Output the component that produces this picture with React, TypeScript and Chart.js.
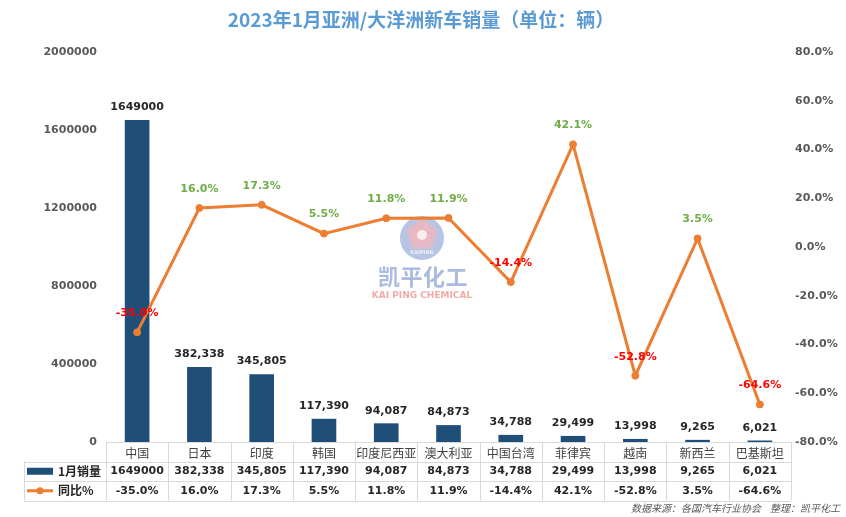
import React, { useEffect, useRef } from 'react';
import { Chart, registerables } from 'chart.js';

Chart.register(...registerables);

const chartTitle = '2023年1月亚洲/大洋洲新车销量（单位：辆）';
const sourceNote = '数据来源：各国汽车行业协会    整理：凯平化工';
const categories = ['中国', '日本', '印度', '韩国', '印度尼西亚', '澳大利亚', '中国台湾', '菲律宾', '越南', '新西兰', '巴基斯坦'];
const salesJan = [1649000, 382338, 345805, 117390, 94087, 84873, 34788, 29499, 13998, 9265, 6021];
const salesLabels = ['1649000', '382,338', '345,805', '117,390', '94,087', '84,873', '34,788', '29,499', '13,998', '9,265', '6,021'];
const yoyPct = [-35.0, 16.0, 17.3, 5.5, 11.8, 11.9, -14.4, 42.1, -52.8, 3.5, -64.6];
const seriesNames = ['1月销量', '同比%'];
const leftMin = 0;
const leftMax = 2000000;
const leftStep = 400000;
const rightMin = -80;
const rightMax = 80;
const rightStep = 20;

const BAR_COLOR = '#1F4E79';
const LINE_COLOR = '#ED7D31';
const NUM_FONT = "'DejaVu Sans', 'Noto Sans CJK SC', sans-serif";
const CJK_FONT = "'Noto Sans CJK SC', 'DejaVu Sans', sans-serif";

const fmtPct = (v: number) => v.toFixed(1) + '%';

const overlayPlugin = {
  id: 'overlay',
  beforeDatasetsDraw(chart: any) {
    const ctx = chart.ctx as CanvasRenderingContext2D;
    // watermark
    const cx = 422, cy = 238;
    ctx.save();
    ctx.globalAlpha = 0.75;
    ctx.fillStyle = '#9FB2DC';
    ctx.beginPath();
    ctx.arc(cx, cy, 22, 0, Math.PI * 2);
    ctx.fill();
    ctx.fillStyle = '#F3B6BE';
    for (let k = 0; k < 5; k++) {
      const a = -Math.PI / 2 + (k * 2 * Math.PI) / 5;
      ctx.beginPath();
      ctx.arc(cx + Math.cos(a) * 8, cy - 3 + Math.sin(a) * 8, 7.5, 0, Math.PI * 2);
      ctx.fill();
    }
    ctx.fillStyle = '#FFFFFF';
    ctx.beginPath();
    ctx.arc(cx, cy - 3, 5, 0, Math.PI * 2);
    ctx.fill();
    ctx.font = "bold 5px 'DejaVu Sans'";
    ctx.textAlign = 'center';
    ctx.textBaseline = 'middle';
    ctx.fillText('KAIPING', cx, cy + 15);
    ctx.fillStyle = '#8FA3D6';
    ctx.font = "bold 22px 'Noto Sans CJK SC'";
    const wm = ['凯', '平', '化', '工'];
    wm.forEach((c, i) => ctx.fillText(c, 389 + i * 22.5, 277));
    ctx.fillStyle = '#F08C8C';
    ctx.font = "bold 9px 'DejaVu Sans'";
    ctx.fillText('KAI PING CHEMICAL', 422, 296);
    ctx.restore();
  },
  afterDatasetsDraw(chart: any) {
    const ctx = chart.ctx as CanvasRenderingContext2D;
    ctx.save();
    ctx.textAlign = 'center';
    ctx.textBaseline = 'middle';
    ctx.font = `bold 11px ${NUM_FONT}`;
    ctx.fillStyle = '#262626';
    chart.getDatasetMeta(0).data.forEach((el: any, i: number) => {
      ctx.fillText(salesLabels[i], el.x, el.y - 13);
    });
    chart.getDatasetMeta(1).data.forEach((el: any, i: number) => {
      const v = yoyPct[i];
      ctx.fillStyle = v >= 0 ? '#70AD47' : '#FF0000';
      ctx.fillText(fmtPct(v), el.x, el.y - 19);
    });
    ctx.restore();
  },
  afterDraw(chart: any) {
    const ctx = chart.ctx as CanvasRenderingContext2D;
    const area = chart.chartArea;
    const n = categories.length;
    const left = area.left;
    const right = area.right;
    const cw = (right - left) / n;
    const top = area.bottom;
    const rh = 19.5;
    const legLeft = 24;
    ctx.save();
    // title
    ctx.fillStyle = '#5B9BD5';
    ctx.font = `bold 19px ${CJK_FONT}`;
    ctx.textAlign = 'center';
    ctx.textBaseline = 'middle';
    ctx.fillText(chartTitle, 421, 20);
    // table lines
    ctx.strokeStyle = '#D9D9D9';
    ctx.lineWidth = 1;
    ctx.beginPath();
    ctx.moveTo(left, top + 0.5);
    ctx.lineTo(right, top + 0.5);
    for (let r = 1; r <= 3; r++) {
      const y = Math.round(top + r * rh) + 0.5;
      ctx.moveTo(legLeft, y);
      ctx.lineTo(right, y);
    }
    for (let c = 0; c <= n; c++) {
      const x = Math.round(left + c * cw) + 0.5;
      ctx.moveTo(x, top);
      ctx.lineTo(x, top + 3 * rh);
    }
    ctx.moveTo(legLeft + 0.5, top + rh);
    ctx.lineTo(legLeft + 0.5, top + 3 * rh);
    ctx.stroke();
    // legend cells
    const y2 = top + rh * 1.5;
    const y3 = top + rh * 2.5;
    ctx.fillStyle = BAR_COLOR;
    ctx.fillRect(27, y2 - 3.5, 26, 7);
    ctx.strokeStyle = LINE_COLOR;
    ctx.lineWidth = 3;
    ctx.beginPath();
    ctx.moveTo(27, y3);
    ctx.lineTo(53, y3);
    ctx.stroke();
    ctx.fillStyle = LINE_COLOR;
    ctx.beginPath();
    ctx.arc(40, y3, 3.5, 0, Math.PI * 2);
    ctx.fill();
    ctx.fillStyle = '#262626';
    ctx.textAlign = 'left';
    ctx.font = `bold 12px ${CJK_FONT}`;
    ctx.fillText(seriesNames[0], 58, y2);
    ctx.fillText(seriesNames[1], 58, y3);
    // values
    ctx.textAlign = 'center';
    ctx.font = `bold 11px ${NUM_FONT}`;
    for (let i = 0; i < n; i++) {
      const x = left + (i + 0.5) * cw;
      ctx.fillText(salesLabels[i], x, y2);
      ctx.fillText(fmtPct(yoyPct[i]), x, y3);
    }
    // source
    ctx.fillStyle = '#595959';
    ctx.font = `italic 10px ${CJK_FONT}`;
    ctx.textAlign = 'right';
    ctx.fillText(sourceNote, 840, 508);
    ctx.restore();
  },
};

export default function App() {
  const ref = useRef<HTMLCanvasElement>(null);
  useEffect(() => {
    document.body.style.margin = '0';
    const canvas = ref.current;
    if (!canvas) return;
    const chart = new Chart(canvas, {
      type: 'bar',
      data: {
        labels: categories,
        datasets: [
          {
            type: 'bar',
            label: seriesNames[0],
            data: salesJan,
            backgroundColor: BAR_COLOR,
            yAxisID: 'y',
            barThickness: 24,
            order: 2,
          } as any,
          {
            type: 'line',
            label: seriesNames[1],
            data: yoyPct,
            borderColor: LINE_COLOR,
            backgroundColor: LINE_COLOR,
            borderWidth: 3,
            pointRadius: 3.5,
            pointBorderWidth: 1,
            pointBackgroundColor: LINE_COLOR,
            pointBorderColor: LINE_COLOR,
            tension: 0,
            yAxisID: 'y1',
            order: 1,
          } as any,
        ],
      },
      options: {
        responsive: false,
        animation: false,
        layout: { padding: { top: 52, left: 0, right: 0, bottom: 0 } },
        plugins: {
          legend: { display: false },
          tooltip: { enabled: false },
          title: { display: false },
        },
        scales: {
          x: {
            type: 'category',
            grid: { display: false, drawTicks: false },
            border: { display: false },
            ticks: {
              padding: 4,
              maxRotation: 0,
              minRotation: 0,
              autoSkip: false,
              color: '#404040',
              font: { family: CJK_FONT, size: 12 },
            },
            afterFit: (s: any) => { s.height = 75; },
          },
          y: {
            position: 'left',
            min: leftMin,
            max: leftMax,
            grid: { display: false, drawTicks: false },
            border: { display: false },
            ticks: {
              stepSize: leftStep,
              padding: 9,
              color: '#595959',
              font: { family: NUM_FONT, size: 11, weight: 'bold' },
              callback: (v: any) => String(v),
            },
            afterFit: (s: any) => { s.width = 106; },
          },
          y1: {
            position: 'right',
            min: rightMin,
            max: rightMax,
            grid: { display: false, drawTicks: false },
            border: { display: false },
            ticks: {
              stepSize: rightStep,
              padding: 4,
              color: '#595959',
              font: { family: NUM_FONT, size: 11, weight: 'bold' },
              callback: (v: any) => fmtPct(Number(v)),
            },
            afterFit: (s: any) => { s.width = 55; },
          },
        },
      } as any,
      plugins: [overlayPlugin],
    });
    return () => chart.destroy();
  }, []);
  return <canvas ref={ref} width={846} height={517} style={{ display: 'block' }} />;
}
